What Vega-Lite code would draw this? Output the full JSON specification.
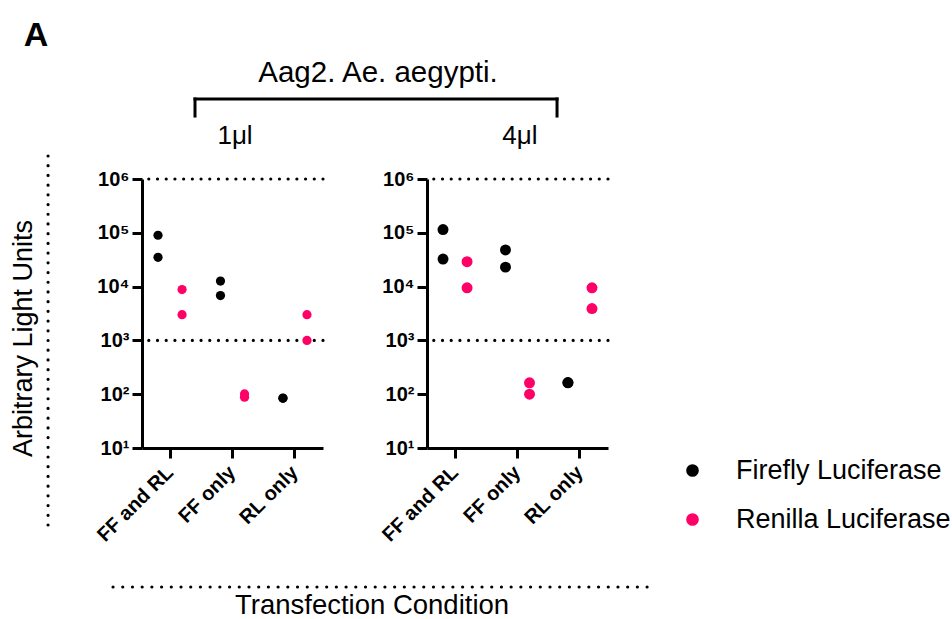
{
  "$schema": "https://vega.github.io/schema/vega-lite/v6.json",
  "background": "white",
  "padding": {"left": 9, "top": 18, "right": 5, "bottom": 0},
  "bounds": "flush",
  "spacing": 104,
  "config": {
    "font": "Liberation Sans",
    "view": {"stroke": null},
    "axis": {
      "domainColor": "black", "domainWidth": 3, "tickColor": "black", "tickWidth": 3, "tickSize": 10,
      "labelColor": "black", "labelFont": "Liberation Sans", "labelFontWeight": "bold", "labelFontSize": 20,
      "grid": false, "titleColor": "black", "titleFont": "Liberation Sans"
    },
    "text": {"font": "Liberation Sans", "color": "black"}
  },
  "datasets": {
    "lum": [
      {"dose": "1μl", "condition": "FF and RL", "reporter": "Firefly Luciferase", "value": 90000},
      {"dose": "1μl", "condition": "FF and RL", "reporter": "Firefly Luciferase", "value": 35000},
      {"dose": "1μl", "condition": "FF and RL", "reporter": "Renilla Luciferase", "value": 8800},
      {"dose": "1μl", "condition": "FF and RL", "reporter": "Renilla Luciferase", "value": 3000},
      {"dose": "1μl", "condition": "FF only", "reporter": "Firefly Luciferase", "value": 12700},
      {"dose": "1μl", "condition": "FF only", "reporter": "Firefly Luciferase", "value": 6800},
      {"dose": "1μl", "condition": "FF only", "reporter": "Renilla Luciferase", "value": 88},
      {"dose": "1μl", "condition": "FF only", "reporter": "Renilla Luciferase", "value": 101},
      {"dose": "1μl", "condition": "RL only", "reporter": "Firefly Luciferase", "value": 84},
      {"dose": "1μl", "condition": "RL only", "reporter": "Firefly Luciferase", "value": 85},
      {"dose": "1μl", "condition": "RL only", "reporter": "Renilla Luciferase", "value": 3000},
      {"dose": "1μl", "condition": "RL only", "reporter": "Renilla Luciferase", "value": 1000},
      {"dose": "4μl", "condition": "FF and RL", "reporter": "Firefly Luciferase", "value": 115000},
      {"dose": "4μl", "condition": "FF and RL", "reporter": "Firefly Luciferase", "value": 32500},
      {"dose": "4μl", "condition": "FF and RL", "reporter": "Renilla Luciferase", "value": 29000},
      {"dose": "4μl", "condition": "FF and RL", "reporter": "Renilla Luciferase", "value": 9500},
      {"dose": "4μl", "condition": "FF only", "reporter": "Firefly Luciferase", "value": 48000},
      {"dose": "4μl", "condition": "FF only", "reporter": "Firefly Luciferase", "value": 23000},
      {"dose": "4μl", "condition": "FF only", "reporter": "Renilla Luciferase", "value": 163},
      {"dose": "4μl", "condition": "FF only", "reporter": "Renilla Luciferase", "value": 100},
      {"dose": "4μl", "condition": "RL only", "reporter": "Firefly Luciferase", "value": 163},
      {"dose": "4μl", "condition": "RL only", "reporter": "Firefly Luciferase", "value": 165},
      {"dose": "4μl", "condition": "RL only", "reporter": "Renilla Luciferase", "value": 9500},
      {"dose": "4μl", "condition": "RL only", "reporter": "Renilla Luciferase", "value": 3900}
    ]
  },
  "resolve": {"legend": {"color": "independent"}},
  "hconcat": [
    {
      "width": 181,
      "height": 269,
      "resolve": {"scale": {"x": "independent"}},
      "layer": [
        {
          "data": {"values": [{}]},
          "mark": {"type": "rule", "strokeDash": [0.01, 8.7], "strokeCap": "round", "strokeWidth": 3.2, "color": "black"},
          "encoding": {"y": {"datum": 1000, "type": "quantitative", "scale": {"type": "log", "domain": [10, 1000000], "nice": false}}}
        },
        {
          "data": {"values": [{}]},
          "mark": {"type": "rule", "strokeDash": [0.01, 8.7], "strokeCap": "round", "strokeWidth": 3.2, "color": "black"},
          "encoding": {"y": {"datum": 1000000, "type": "quantitative", "scale": {"type": "log", "domain": [10, 1000000], "nice": false}}}
        },
        {
          "layer": [
            {
              "transform": [{"filter": "datum.reporter === 'Firefly Luciferase'"}],
              "mark": {"type": "point", "filled": true, "opacity": 1, "size": 85},
              "encoding": {
                "x": {"field": "condition", "type": "nominal", "bandPosition": 0.25}
              }
            },
            {
              "transform": [{"filter": "datum.reporter === 'Renilla Luciferase'"}],
              "mark": {"type": "point", "filled": true, "opacity": 1, "size": 85},
              "encoding": {
                "x": {"field": "condition", "type": "nominal", "bandPosition": 0.75}
              }
            }
          ],
          "data": {"name": "lum"},
          "transform": [{"filter": "datum.dose === '1μl'"}],
          "encoding": {
            "x": {"field": "condition", "type": "nominal", "sort": ["FF and RL", "FF only", "RL only"],
                  "scale": {"type": "band", "paddingInner": 0.23, "paddingOuter": 0.064},
                  "axis": {"title": null, "labelAngle": -45, "labelAlign": "right", "labelBaseline": "middle", "labelPadding": 11}},
            "y": {"field": "value", "type": "quantitative", "scale": {"type": "log", "domain": [10, 1000000], "nice": false},
                  "axis": {"values": [10, 100, 1000, 10000, 100000, 1000000], "labelExpr": "'10' + ['⁰','¹','²','³','⁴','⁵','⁶'][round(log(datum.value)/LN10)]", "labelPadding": 3,
                           "title": "Arbitrary Light Units", "titleFontSize": 27, "titleFontWeight": "normal", "titlePadding": 59, "titleY": 159}},
            "color": {"field": "reporter", "type": "nominal", "scale": {"domain": ["Firefly Luciferase", "Renilla Luciferase"], "range": ["#000000", "#FF0066"]}, "legend": null}
          }
        },
        {
          "data": {"values": [{}]},
          "mark": {"type": "rule", "strokeWidth": 3, "color": "black", "strokeCap": "square"},
          "encoding": {
            "x": {"datum": 0.2928, "type": "quantitative", "scale": {"domain": [0, 1], "nice": false, "zero": false}, "axis": null},
            "x2": {"datum": 2.293},
            "y": {"datum": 30700000, "type": "quantitative", "scale": {"type": "log", "domain": [10, 1000000], "nice": false}}
          }
        },
        {
          "data": {"values": [{}]},
          "mark": {"type": "rule", "strokeWidth": 3, "color": "black", "strokeCap": "square"},
          "encoding": {
            "x": {"datum": 0.2928, "type": "quantitative", "scale": {"domain": [0, 1], "nice": false, "zero": false}, "axis": null},
            "y": {"datum": 30700000, "type": "quantitative", "scale": {"type": "log", "domain": [10, 1000000], "nice": false}},
            "y2": {"datum": 14800000}
          }
        },
        {
          "data": {"values": [{}]},
          "mark": {"type": "rule", "strokeWidth": 3, "color": "black", "strokeCap": "square"},
          "encoding": {
            "x": {"datum": 2.293, "type": "quantitative", "scale": {"domain": [0, 1], "nice": false, "zero": false}, "axis": null},
            "y": {"datum": 30700000, "type": "quantitative", "scale": {"type": "log", "domain": [10, 1000000], "nice": false}},
            "y2": {"datum": 14800000}
          }
        },
        {
          "data": {"values": [{}]},
          "mark": {"type": "rule", "strokeDash": [0.01, 9.7], "strokeCap": "round", "strokeWidth": 3.2, "color": "black"},
          "encoding": {
            "x": {"datum": -0.519, "type": "quantitative", "scale": {"domain": [0, 1], "nice": false, "zero": false}, "axis": null},
            "y": {"datum": 2676000, "type": "quantitative", "scale": {"type": "log", "domain": [10, 1000000], "nice": false}},
            "y2": {"datum": 0.2865}
          }
        },
        {
          "data": {"values": [{}]},
          "mark": {"type": "rule", "strokeDash": [0.01, 9.7], "strokeCap": "round", "strokeWidth": 3.2, "color": "black"},
          "encoding": {
            "x": {"datum": -0.16, "type": "quantitative", "scale": {"domain": [0, 1], "nice": false, "zero": false}, "axis": null},
            "x2": {"datum": 2.834},
            "y": {"datum": 0.02609, "type": "quantitative", "scale": {"type": "log", "domain": [10, 1000000], "nice": false}}
          }
        },
        {
          "data": {"values": [{}]},
          "mark": {"type": "text", "text": "A", "fontSize": 34, "fontWeight": "bold", "align": "center", "baseline": "middle"},
          "encoding": {
            "x": {"datum": -0.586, "type": "quantitative", "scale": {"domain": [0, 1], "nice": false, "zero": false}, "axis": null},
            "y": {"datum": 455000000, "type": "quantitative", "scale": {"type": "log", "domain": [10, 1000000], "nice": false}}
          }
        },
        {
          "data": {"values": [{}]},
          "mark": {"type": "text", "text": "Aag2. Ae. aegypti.", "fontSize": 29.5, "align": "center", "baseline": "middle"},
          "encoding": {
            "x": {"datum": 1.304, "type": "quantitative", "scale": {"domain": [0, 1], "nice": false, "zero": false}, "axis": null},
            "y": {"datum": 93300000, "type": "quantitative", "scale": {"type": "log", "domain": [10, 1000000], "nice": false}}
          }
        },
        {
          "data": {"values": [{}]},
          "mark": {"type": "text", "text": "1μl", "fontSize": 26, "align": "center", "baseline": "middle"},
          "encoding": {
            "x": {"datum": 0.514, "type": "quantitative", "scale": {"domain": [0, 1], "nice": false, "zero": false}, "axis": null},
            "y": {"datum": 6300000, "type": "quantitative", "scale": {"type": "log", "domain": [10, 1000000], "nice": false}}
          }
        },
        {
          "data": {"values": [{}]},
          "mark": {"type": "text", "text": "4μl", "fontSize": 26, "align": "center", "baseline": "middle"},
          "encoding": {
            "x": {"datum": 2.088, "type": "quantitative", "scale": {"domain": [0, 1], "nice": false, "zero": false}, "axis": null},
            "y": {"datum": 6300000, "type": "quantitative", "scale": {"type": "log", "domain": [10, 1000000], "nice": false}}
          }
        },
        {
          "data": {"values": [{}]},
          "mark": {"type": "text", "text": "Transfection Condition", "fontSize": 27.5, "align": "center", "baseline": "middle"},
          "encoding": {
            "x": {"datum": 1.271, "type": "quantitative", "scale": {"domain": [0, 1], "nice": false, "zero": false}, "axis": null},
            "y": {"datum": 0.01156, "type": "quantitative", "scale": {"type": "log", "domain": [10, 1000000], "nice": false}}
          }
        }
      ]
    },
    {
      "width": 181,
      "height": 269,
      "layer": [
        {
          "data": {"values": [{}]},
          "mark": {"type": "rule", "strokeDash": [0.01, 8.7], "strokeCap": "round", "strokeWidth": 3.2, "color": "black"},
          "encoding": {"y": {"datum": 1000, "type": "quantitative", "scale": {"type": "log", "domain": [10, 1000000], "nice": false}}}
        },
        {
          "data": {"values": [{}]},
          "mark": {"type": "rule", "strokeDash": [0.01, 8.7], "strokeCap": "round", "strokeWidth": 3.2, "color": "black"},
          "encoding": {"y": {"datum": 1000000, "type": "quantitative", "scale": {"type": "log", "domain": [10, 1000000], "nice": false}}}
        },
        {
          "layer": [
            {
              "transform": [{"filter": "datum.reporter === 'Firefly Luciferase'"}],
              "mark": {"type": "point", "filled": true, "opacity": 1, "size": 120},
              "encoding": {
                "x": {"field": "condition", "type": "nominal", "bandPosition": 0.25}
              }
            },
            {
              "transform": [{"filter": "datum.reporter === 'Renilla Luciferase'"}],
              "mark": {"type": "point", "filled": true, "opacity": 1, "size": 120},
              "encoding": {
                "x": {"field": "condition", "type": "nominal", "bandPosition": 0.75}
              }
            }
          ],
          "data": {"name": "lum"},
          "transform": [{"filter": "datum.dose === '4μl'"}],
          "encoding": {
            "x": {"field": "condition", "type": "nominal", "sort": ["FF and RL", "FF only", "RL only"],
                  "scale": {"type": "band", "paddingInner": 0.23, "paddingOuter": 0.064},
                  "axis": {"title": null, "labelAngle": -45, "labelAlign": "right", "labelBaseline": "middle", "labelPadding": 11}},
            "y": {"field": "value", "type": "quantitative", "scale": {"type": "log", "domain": [10, 1000000], "nice": false},
                  "axis": {"values": [10, 100, 1000, 10000, 100000, 1000000], "labelExpr": "'10' + ['⁰','¹','²','³','⁴','⁵','⁶'][round(log(datum.value)/LN10)]", "labelPadding": 3, "title": null}},
            "color": {"field": "reporter", "type": "nominal", "scale": {"domain": ["Firefly Luciferase", "Renilla Luciferase"], "range": ["#000000", "#FF0066"]},
                      "legend": {"orient": "none", "legendX": 252, "legendY": 278, "title": null, "labelFontSize": 27, "labelFont": "Liberation Sans", "labelColor": "black", "labelLimit": 0,
                                 "symbolSize": 160, "symbolType": "circle", "symbolStrokeWidth": 0, "labelOffset": 30, "rowPadding": 21, "padding": 0}}
          }
        }
      ]
    }
  ]
}
